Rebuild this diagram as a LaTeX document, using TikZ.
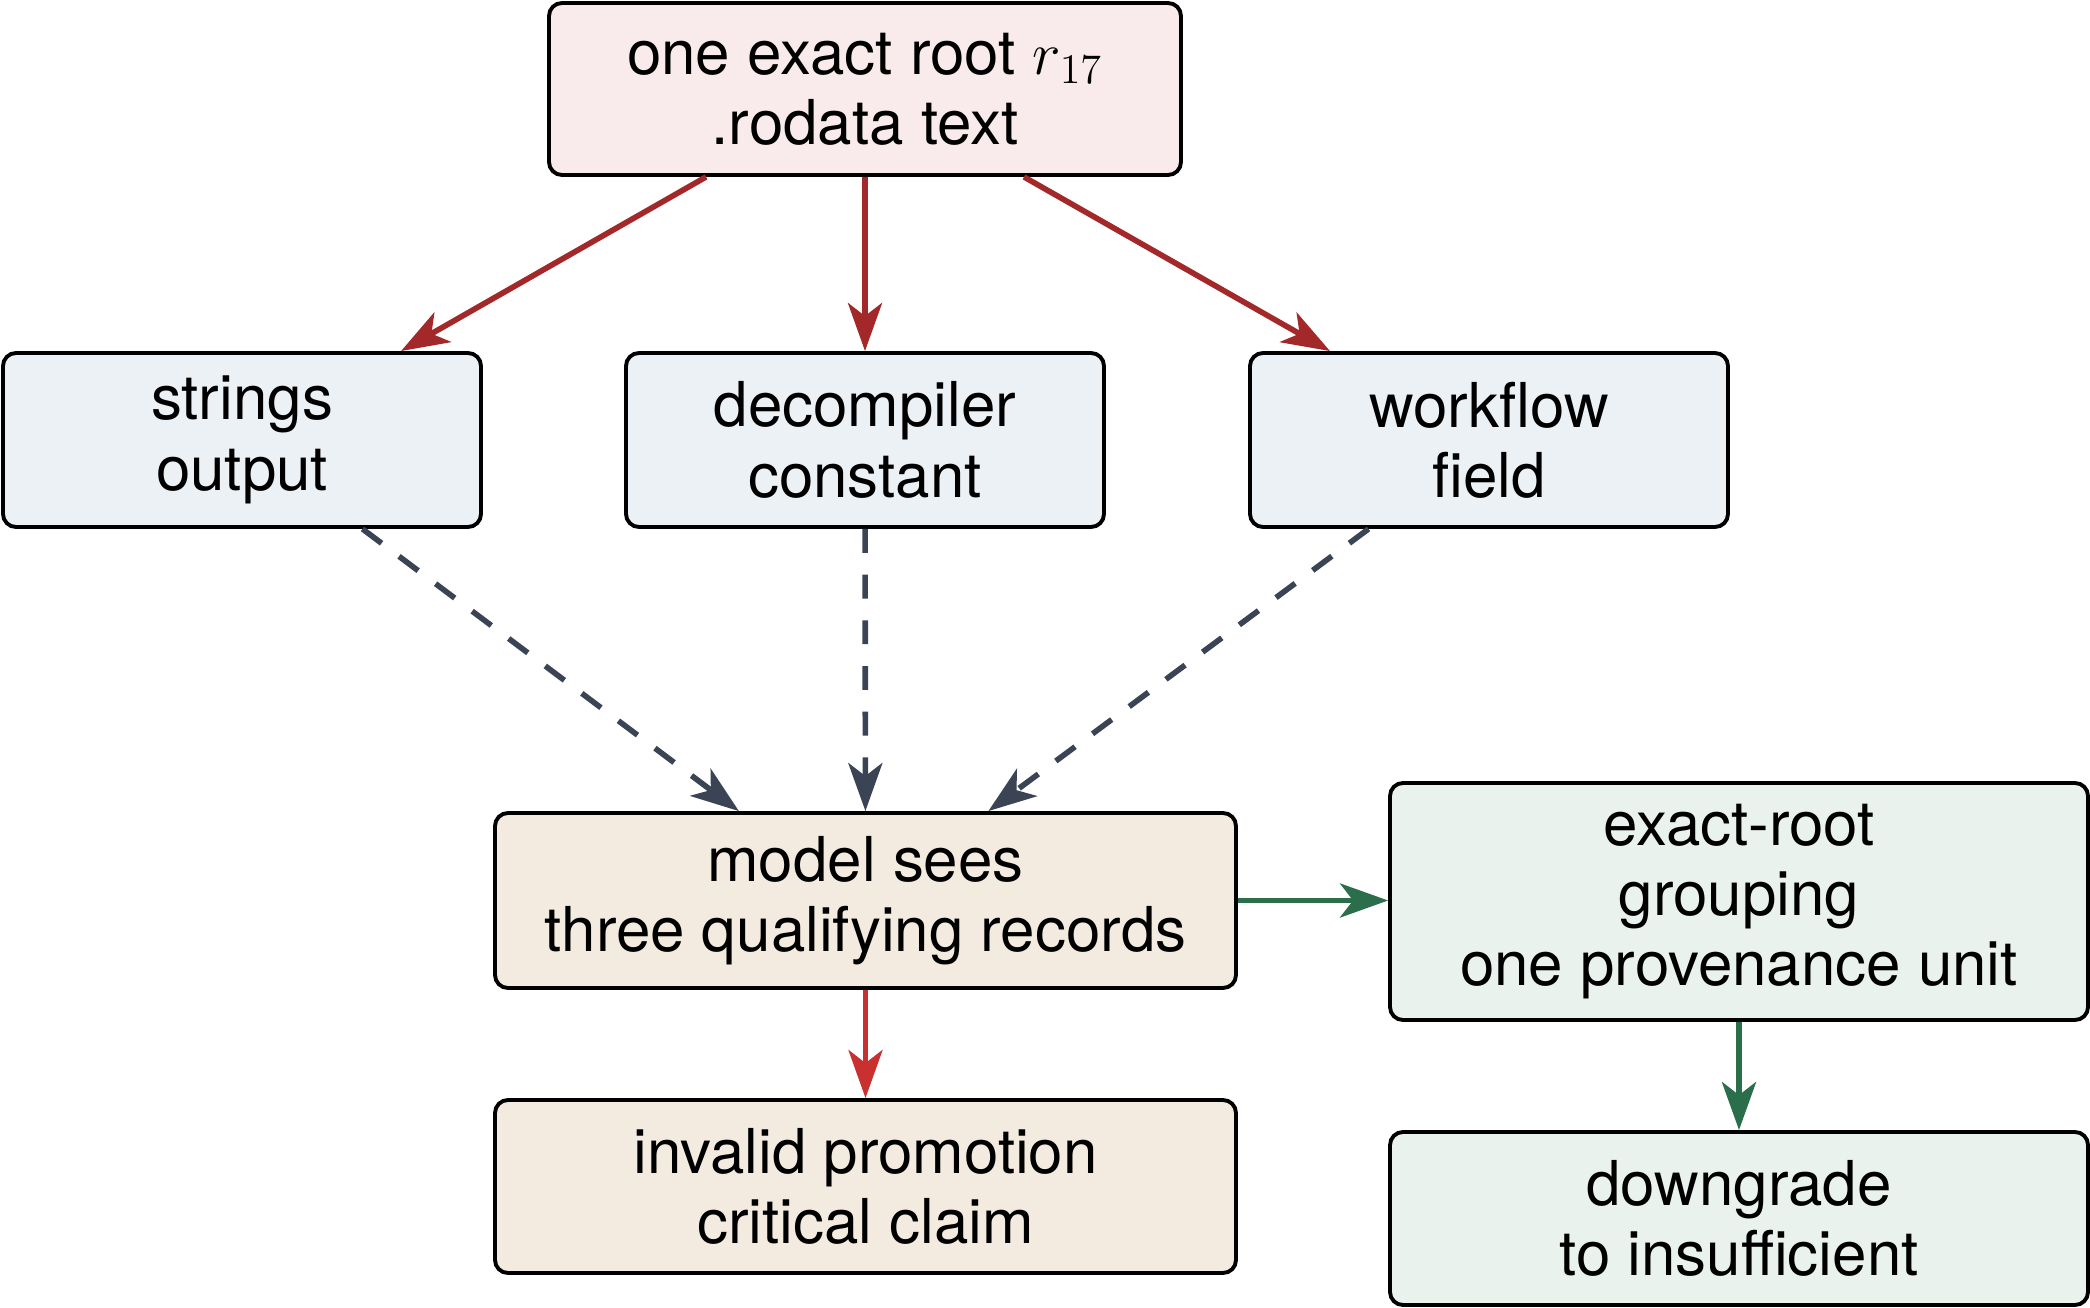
\documentclass[tikz,border=0pt]{standalone}
\usepackage{amsmath,amssymb}
\usepackage{fontspec}
\setmainfont{TeX Gyre Heros}
\usepackage{xcolor}
\usetikzlibrary{arrows.meta,calc}
\definecolor{RootRed}{HTML}{A3282A}
\definecolor{ClaimRed}{HTML}{C93030}
\definecolor{SlateGray}{HTML}{3A4455}
\definecolor{GroupGreen}{HTML}{2B6E4B}
\definecolor{RootFill}{HTML}{F9EBEB}
\definecolor{ViewFill}{HTML}{EBF1F5}
\definecolor{ModelFill}{HTML}{F3EBDF}
\definecolor{GroupFill}{HTML}{EAF2EE}

\begin{document}
\begin{tikzpicture}[
        box/.style={draw=black, line width=1.1pt, rounded corners=0.13cm, align=center, font=\fontsize{17.6}{20}\selectfont, inner sep=0pt},
        tip/.style={-{Stealth[length=4.8mm, width=3.4mm, inset=1.3mm]}, line width=1.6pt},
        dashtip/.style={tip, dash pattern=on 6.8pt off 6.2pt},
    ]
        \useasboundingbox (0,0) rectangle (20.9,-13.08);
        \node[box, fill=RootFill, minimum width=6.32cm, minimum height=1.72cm] (root) at (8.65,-0.89) {one exact root $r_{17}$\\.rodata text};
        \node[box, fill=ViewFill, minimum width=4.78cm, minimum height=1.74cm] (strings) at (2.42,-4.40) {strings\\output};
        \node[box, fill=ViewFill, minimum width=4.78cm, minimum height=1.74cm] (decomp) at (8.65,-4.40) {decompiler\\constant};
        \node[box, fill=ViewFill, minimum width=4.78cm, minimum height=1.74cm] (workflow) at (14.89,-4.40) {workflow\\field};
        \node[box, fill=ModelFill, minimum width=7.41cm, minimum height=1.75cm] (model) at (8.655,-9.005) {model sees\\three qualifying records};
        \node[box, fill=ModelFill, minimum width=7.41cm, minimum height=1.73cm] (invalid) at (8.655,-11.865) {invalid promotion\\critical claim};
        \node[box, fill=GroupFill, minimum width=6.98cm, minimum height=2.37cm] (group) at (17.39,-9.015) {exact-root\\grouping\\one provenance unit};
        \node[box, fill=GroupFill, minimum width=6.98cm, minimum height=1.73cm] (downgrade) at (17.39,-12.185) {downgrade\\to insufficient};
        % root fans out
        \draw[tip, RootRed] ($(root.south west)!0.25!(root.south east)$) -- ($(strings.north west)!0.83!(strings.north east)$);
        \draw[tip, RootRed] (root) -- (decomp);
        \draw[tip, RootRed] ($(root.south west)!0.75!(root.south east)$) -- ($(workflow.north west)!0.17!(workflow.north east)$);
        % views reach the model
        \draw[dashtip, SlateGray] ($(strings.south west)!0.75!(strings.south east)$) -- ($(model.north west)!0.33!(model.north east)$);
        \draw[dashtip, SlateGray] (decomp) -- (model);
        \draw[dashtip, SlateGray] ($(workflow.south west)!0.25!(workflow.south east)$) -- ($(model.north west)!0.665!(model.north east)$);
        \draw[tip, ClaimRed] (model) -- (invalid);
        \draw[tip, GroupGreen] (model.east) -- (model.east -| group.west);
        \draw[tip, GroupGreen] (group) -- (downgrade);
      \end{tikzpicture}
\end{document}
